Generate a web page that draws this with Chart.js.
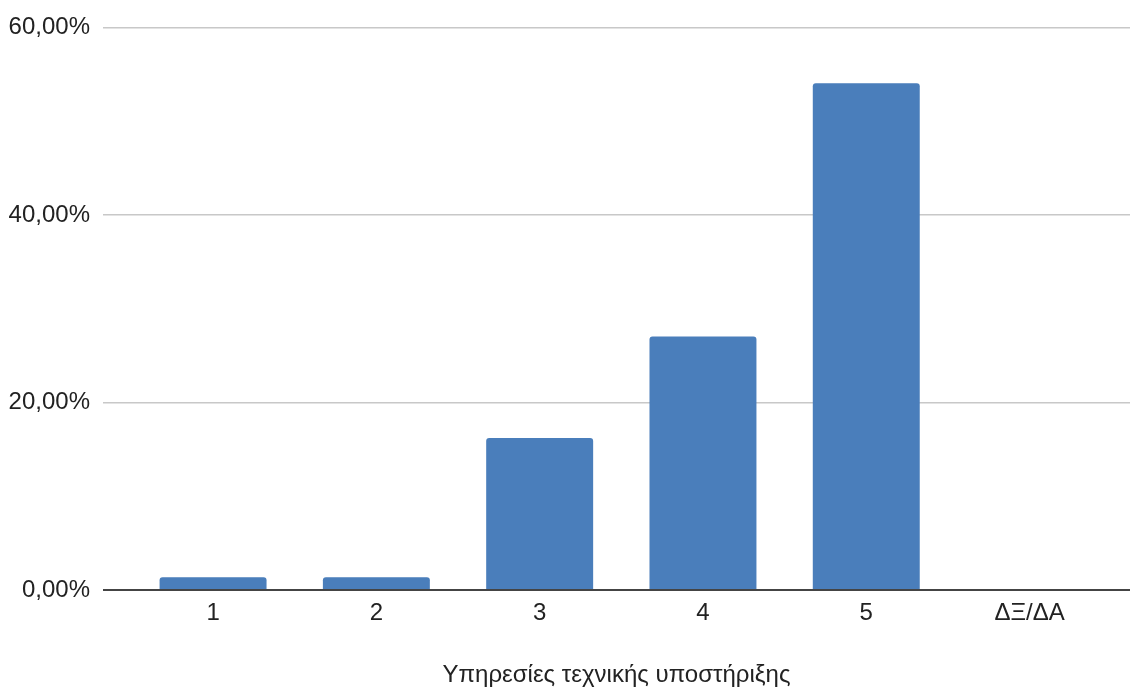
<!DOCTYPE html>
<html>
<head>
<meta charset="utf-8">
<script src="https://cdn.jsdelivr.net/npm/chart.js@4/dist/chart.umd.min.js"></script>
<style>
  html, body { margin: 0; padding: 0; background: #fff; }
</style>
</head>
<body>
<canvas id="chart" width="1130" height="689"></canvas>
<script>
// categories and values (percent)
const kategorijos = ['1', '2', '3', '4', '5', 'ΔΞ/ΔΑ'];
const reiksmes = [1.35, 1.35, 16.22, 27.03, 54.05, 0];
const yTicks = [0, 20, 40, 60];
const asiesPavadinimas = 'Υπηρεσίες τεχνικής υποστήριξης';

const spalva = '#4a7ebb';
const sriftas = '"Liberation Sans", Arial, sans-serif';

const taskai = reiksmes.map((v, i) => ({ x: i, y: v }));

new Chart(document.getElementById('chart'), {
    type: 'bar',
    data: {
        datasets: [{
            data: taskai,
            backgroundColor: spalva,
            borderRadius: { topLeft: 3, topRight: 3 },
            borderSkipped: 'bottom',
            barPercentage: 0.655,
            categoryPercentage: 1
        }]
    },
    options: {
        responsive: false,
        animation: false,
        layout: { padding: { top: 27, right: 0, left: 0, bottom: 0 } },
        plugins: {
            legend: { display: false },
            tooltip: { enabled: false }
        },
        scales: {
            x: {
                type: 'linear',
                offset: false,
                min: -0.674,
                max: 5.615,
                grid: { display: false, drawTicks: false },
                border: { display: false },
                afterBuildTicks: (axis) => {
                    axis.ticks = kategorijos.map((k, i) => ({ value: i }));
                },
                afterFit: (axis) => { axis.height = 99; },
                ticks: {
                    padding: 9,
                    color: '#222',
                    font: { family: sriftas, size: 24 },
                    callback: (v) => kategorijos[v]
                },
                title: {
                    display: true,
                    text: asiesPavadinimas,
                    color: '#222',
                    font: { family: sriftas, size: 24 },
                    padding: { top: 0, bottom: -1 }
                }
            },
            y: {
                min: 0,
                max: 60,
                afterBuildTicks: (axis) => {
                    axis.ticks = yTicks.map(v => ({ value: v }));
                },
                afterFit: (axis) => { axis.width = 103; },
                grid: {
                    drawTicks: false,
                    color: (ctx) => ctx.tick && ctx.tick.value === 0 ? '#444' : '#c8c8c8',
                    lineWidth: (ctx) => ctx.tick && ctx.tick.value === 0 ? 2 : 1.5
                },
                border: { display: false },
                ticks: {
                    padding: 13,
                    color: '#222',
                    font: { family: sriftas, size: 24 },
                    callback: (v) => v.toFixed(2).replace('.', ',') + '%'
                }
            }
        }
    }
});
</script>
</body>
</html>
